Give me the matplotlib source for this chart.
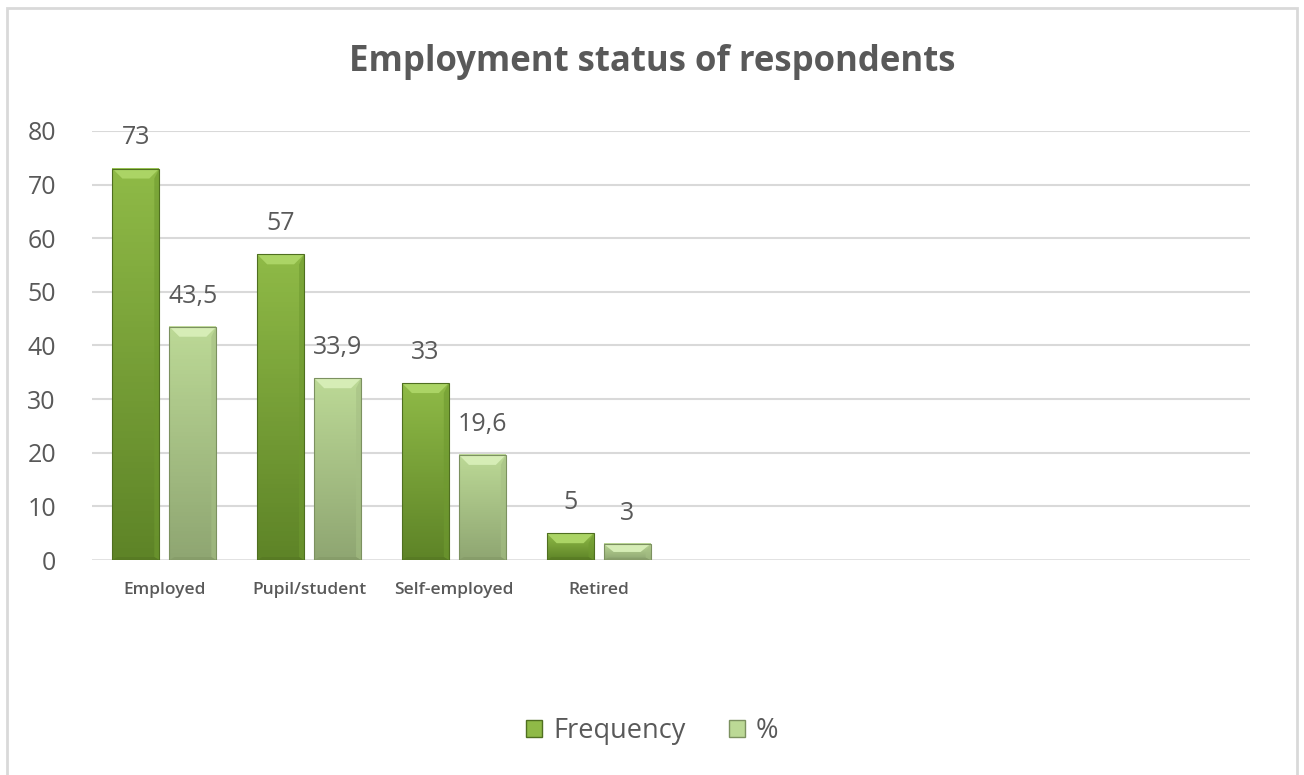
import numpy as np
import matplotlib.pyplot as plt
from matplotlib.patches import Polygon, Patch, Rectangle
from matplotlib.colors import LinearSegmentedColormap

# data
categories = ["Employed", "Pupil/student", "Self-employed", "Retired", "", "", "", ""]
frequency = [73, 57, 33, 5]
percent = [43.5, 33.9, 19.6, 3]
series_names = ["Frequency", "%"]

text_grey = "#595959"
grid_grey = "#D9D9D9"

# face gradient (top -> bottom), bevel top, bevel side, edge
styles = [
    dict(top="#8FBA47", bottom="#5E8427", bevel="#ABD465", side="#6F9A30", edge="#4F6F20"),
    dict(top="#BCD996", bottom="#8FA672", bevel="#D6EDB6", side="#A5BF84", edge="#7C9160"),
]

plt.rcParams["font.family"] = ["Open Sans", "DejaVu Sans"]

fig = plt.figure(figsize=(13.04, 7.75), dpi=100)
fig.patch.set_facecolor("white")
fig.add_artist(Rectangle((7 / 1304, -0.05), 1290 / 1304, 1.05 - 8 / 775,
                         transform=fig.transFigure, fill=False,
                         edgecolor="#D9D9D9", linewidth=2))

ax = fig.add_axes([92 / 1304, 215 / 775, 1158 / 1304, 429 / 775])
ax.set_xlim(-0.5, len(categories) - 0.5)
ax.set_ylim(0, 80)

width = 0.324
offsets = [-0.197, 0.197]

# pixel -> data scale for the bevel
px_x = (len(categories)) / 1158.0
px_y = 80 / 429.0
bev_px = 10


def draw_bar(xc, h, st):
    x0, x1 = xc - width / 2, xc + width / 2
    cmap = LinearSegmentedColormap.from_list("g", [st["bottom"], st["top"]])
    grad = np.linspace(0, 1, 64).reshape(-1, 1)
    ax.imshow(grad, cmap=cmap, origin="lower", extent=[x0, x1, 0, h],
              aspect="auto", zorder=3)
    bx = bev_px * px_x
    by = min(bev_px * px_y, h / 2)
    ax.add_patch(Polygon([(x0, h), (x1, h), (x1 - bx, h - by), (x0 + bx, h - by)],
                         closed=True, facecolor=st["bevel"], edgecolor="none", zorder=4))
    ax.add_patch(Polygon([(x1, h), (x1, 0), (x1 - bx * 0.5, by * 0.3), (x1 - bx * 0.5, h - by)],
                         closed=True, facecolor=st["side"], edgecolor="none", alpha=0.6, zorder=4))
    ax.add_patch(Polygon([(x0, 0), (x1, 0), (x1 - bx * 0.5, by * 0.3), (x0 + bx * 0.5, by * 0.3)],
                         closed=True, facecolor=st["edge"], edgecolor="none", alpha=0.4, zorder=4))
    ax.add_patch(Rectangle((x0, 0), width, h, fill=False, edgecolor=st["edge"],
                           linewidth=0.8, zorder=5))


for s, vals in enumerate([frequency, percent]):
    for i, v in enumerate(vals):
        xc = i + offsets[s]
        draw_bar(xc, v, styles[s])
        lab = f"{v:g}".replace(".", ",")
        ax.annotate(lab, (xc, v), xytext=(0, 13), textcoords="offset points",
                    ha="center", va="bottom", fontsize=18, color=text_grey, zorder=6)

# grid
for y in range(10, 90, 10):
    ax.axhline(y, color=grid_grey, linewidth=1.5, zorder=1)
ax.axhline(0, color=grid_grey, linewidth=1.8, zorder=2)

for sp in ax.spines.values():
    sp.set_visible(False)
ax.set_xticks(range(len(categories)))
ax.set_xticklabels(categories, fontsize=12.5, color=text_grey, fontweight="semibold")
ax.set_yticks(range(0, 90, 10))
ax.tick_params(axis="y", length=0, pad=26, labelsize=18, labelcolor=text_grey)
ax.tick_params(axis="x", length=0, pad=16)

fig.text(0.5, 1 - 62 / 775, "Employment status of respondents", ha="center", va="center",
         fontsize=25, fontweight="bold", color=text_grey)

handles = [Patch(facecolor=styles[0]["top"], edgecolor=styles[0]["edge"], label=series_names[0]),
           Patch(facecolor=styles[1]["top"], edgecolor=styles[1]["edge"], label=series_names[1])]
leg = fig.legend(handles=handles, loc="center", bbox_to_anchor=(0.5, 1 - 731 / 775), ncol=2,
                 frameon=False, fontsize=19.5, handlelength=0.6, handleheight=0.6,
                 handletextpad=0.4, columnspacing=1.6)
for t in leg.get_texts():
    t.set_color(text_grey)

fig.savefig("out.png", dpi=100, facecolor="white")
